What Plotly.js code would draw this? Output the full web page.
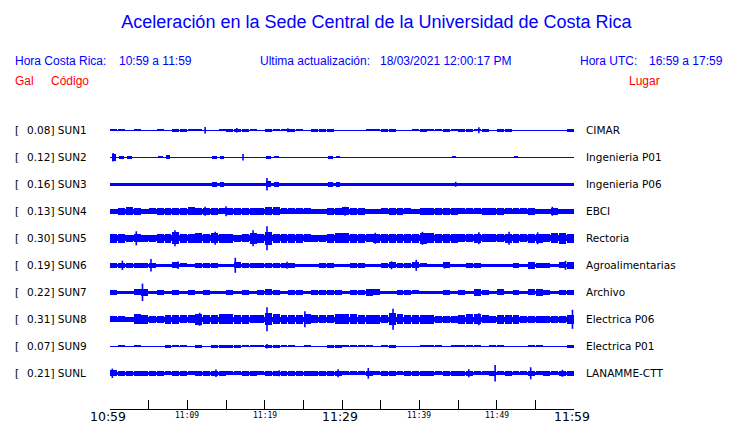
<!DOCTYPE html>
<html>
<head>
<meta charset="utf-8">
<script src="https://cdn.plot.ly/plotly-3.0.1.min.js"></script>
<style>html,body{margin:0;padding:0;background:#fff;}#chart{width:740px;height:423px;}</style>
</head>
<body>
<div id="chart"></div>
<script>
// ---------------- DATA ----------------
const stations = ['SUN1','SUN2','SUN3','SUN4','SUN5','SUN6','SUN7','SUN8','SUN9','SUNL'];
const places = ['CIMAR','Ingenieria P01','Ingenieria P06','EBCI','Rectoria','Agroalimentarias','Archivo','Electrica P06','Electrica P01','LANAMME-CTT'];
const peakGal = [0.08,0.12,0.16,0.13,0.30,0.19,0.22,0.31,0.07,0.21];
// background noise half-amplitude per station (display units)
const noiseLevel = [0.5,0.5,1.8,2.2,3.0,1.8,1.8,2.2,0.7,1.8];
// per-minute maximum half-amplitude (display units), minutes 0..59 after 10:59
const env_SUN1 = [1.0,1.0,0.8,1.0,0,0,1.0,0.8,1.3,1.3, 1.0,1.0,0.8,0.8,1.0,1.3,1.5,1.3,1.0,0.8, 1.2,1.0,1.0,1.5,1.0,0,1.2,1.2,1.2,0.8, 0.8,0.8,0.6,1.0,1.0,1.3,1.5,0.8,0.8,1.0, 1.3,1.0,1.0,1.2,1.0,1.2,1.2,1.0,1.2,0.6, 1.5,1.2,0.8,0,0.8,0.8,0,0.8,0,1.2];
const env_SUN2 = [3.5,1.8,1.2,0.8,0.8,0.8,1.0,2.0,0.8,0, 0,0,0,1.3,1.3,0,0,0,0,0, 1.5,1.0,0,0,0,0,0,0,1.3,1.0, 0,0,0,0,0,0,0,0,0,0, 0,0,0,0,1.0,0,0,0,0,0, 0,0,1.0,0,0,0,0,0,0,0];
const env_SUN3 = [0,0,0,0,0,0,0,0,0,0, 0,0,0,2.8,2.8,0,0,0,0,0, 3.0,2.3,0,0,0,0,0,0,2.8,2.5, 0,0,0,0,0,0,0,0,0,0, 0,0,0,0,0,0,0,0,0,0, 0,0,0,0,0,0,0,0,0,0];
const env_SUN4 = [2.6,3.5,4.0,3.2,2.8,3.0,3.3,3.3,3.5,3.5, 4.0,3.5,3.5,3.3,3.0,3.5,3.5,3.5,3.3,3.3, 4.0,4.0,3.0,3.0,3.0,3.0,2.6,2.5,3.5,3.8, 4.0,3.8,3.5,2.6,2.5,3.0,3.3,3.5,3.0,2.6, 3.5,3.5,3.8,3.5,3.3,3.0,3.0,3.0,3.5,3.5, 3.3,3.0,3.0,3.0,3.5,2.6,2.5,3.5,2.5,2.6];
const env_SUN5 = [4.3,4.3,3.8,4.0,3.8,3.8,4.5,4.5,6.0,4.5, 4.8,5.0,4.8,5.0,4.5,4.5,3.8,4.0,5.5,4.5, 6.5,4.5,4.5,4.3,4.3,4.0,3.8,3.8,4.5,5.0, 5.0,4.8,4.5,4.0,4.5,4.3,4.5,4.5,4.5,4.3, 5.5,5.0,4.5,4.5,4.3,4.0,4.0,4.5,4.0,4.0, 4.0,4.5,4.3,4.0,4.3,4.5,4.0,5.0,5.5,4.3];
const env_SUN6 = [2.2,2.8,2.2,2.5,2.5,2.5,1.8,1.8,3.0,2.0, 1.8,2.5,2.5,2.2,1.8,1.8,3.0,2.5,2.5,2.2, 2.8,2.2,2.8,2.5,1.8,1.8,1.8,2.2,2.2,1.8, 1.8,2.2,2.5,1.8,1.8,2.2,3.0,2.5,2.2,3.0, 2.0,1.8,1.8,3.0,1.8,1.8,2.5,2.5,1.8,1.8, 1.8,1.8,2.2,1.8,3.5,2.8,2.5,1.8,3.0,3.2];
const env_SUN7 = [2.2,1.8,1.8,3.0,3.5,1.8,2.5,1.8,2.2,1.8, 2.2,1.8,2.5,1.8,1.8,2.2,1.8,2.2,1.8,2.8, 3.0,2.2,1.8,2.5,2.2,1.8,2.2,2.2,2.2,2.2, 1.8,2.5,2.5,3.5,3.0,1.8,1.8,2.2,2.2,2.0, 1.8,1.8,1.8,2.5,1.8,2.2,1.8,3.3,2.8,1.8, 3.0,1.8,2.2,1.8,3.0,3.3,2.2,1.8,2.5,2.2];
const env_SUN8 = [3.0,3.0,2.8,5.0,4.5,3.5,3.5,4.5,4.5,4.0, 4.0,5.5,4.5,4.5,5.0,5.0,4.5,4.5,4.0,4.0, 6.0,5.0,4.5,4.5,4.3,5.0,4.0,4.0,4.0,5.0, 5.0,5.0,4.3,4.3,4.3,4.0,6.0,5.0,4.3,4.3, 4.5,4.5,3.8,3.5,3.8,4.5,5.0,5.0,4.0,3.5, 4.5,4.5,4.3,3.5,3.8,3.8,3.5,3.5,3.5,4.5];
const env_SUN9 = [0.7,1.0,0.7,1.0,0.7,0.7,0.7,1.3,1.0,1.0, 0.7,1.3,0.7,1.5,1.5,1.3,1.3,1.0,1.0,1.0, 1.5,1.3,1.0,1.0,0.7,1.0,0.7,0.7,1.5,1.5, 1.0,1.0,1.0,1.0,0.7,1.0,1.5,0.7,0.7,0.7, 1.0,1.0,1.0,0.7,1.0,1.0,1.0,1.0,0.7,1.0, 1.0,0.7,0.7,0.7,1.0,1.0,0.7,0.7,0.7,1.3];
const env_SUNL = [3.0,2.5,2.2,2.2,2.5,2.2,2.2,2.0,2.2,2.2, 2.0,2.3,2.3,2.5,2.2,2.0,2.0,2.2,2.5,2.0, 2.5,2.5,2.2,2.2,2.2,2.3,2.3,2.3,2.3,2.5, 2.0,2.0,2.0,2.5,2.0,2.2,2.2,2.0,2.2,2.5, 2.2,2.2,2.0,2.2,2.2,2.2,2.5,2.0,2.0,2.5, 2.0,2.2,2.0,2.0,2.5,2.0,2.2,2.0,2.5,2.2];
// isolated peaks: [minute, half-amplitude]
const peaks_SUN1 = [[12.3,3.3],[16.4,2.3],[23.0,2.0],[47.7,3.0]];
const peaks_SUN2 = [[0.4,4.3],[17.2,3.3]];
const peaks_SUN3 = [[20.3,6.3],[44.7,2.5]];
const peaks_SUN4 = [[12.3,4.5],[15.0,5.0],[30.4,4.5],[57.2,4.5]];
const peaks_SUN5 = [[3.4,7.0],[8.4,8.0],[13.6,6.5],[18.5,8.0],[20.3,12.0],[34.3,5.5],[40.4,6.5],[47.7,6.0],[51.6,6.5],[55.3,6.0]];
const peaks_SUN6 = [[1.6,4.7],[5.3,6.2],[8.8,3.8],[16.2,7.5],[22.9,3.5],[36.4,4.0],[39.6,5.5],[43.3,3.3],[58.9,4.5]];
const peaks_SUN7 = [[4.2,8.7]];
const peaks_SUN8 = [[11.6,6.5],[20.3,12.0],[25.2,8.0],[36.6,10.5],[47.7,6.0],[59.8,9.5]];
const peaks_SUN9 = [[20.3,2.3]];
const peaks_SUNL = [[0.3,4.7],[13.7,3.8],[21.9,3.0],[29.5,4.0],[33.4,5.3],[46.4,4.0],[49.8,8.3],[54.4,6.0],[58.5,3.5]];
const tickMinutes = [0,10,20,30,40,50,60];
const tickLabels = ['10:59','11:09','11:19','11:29','11:39','11:49','11:59'];
const titleText = 'Aceleración en la Sede Central de la Universidad de Costa Rica';
const localLabel = 'Hora Costa Rica:', localRange = '10:59 a 11:59';
const updLabel = 'Ultima actualización:', updValue = '18/03/2021 12:00:17 PM';
const utcLabel = 'Hora UTC:', utcRange = '16:59 a 17:59';

// ---------------- BUILD ----------------
const envs = [env_SUN1,env_SUN2,env_SUN3,env_SUN4,env_SUN5,env_SUN6,env_SUN7,env_SUN8,env_SUN9,env_SUNL];
const peaks = [peaks_SUN1,peaks_SUN2,peaks_SUN3,peaks_SUN4,peaks_SUN5,peaks_SUN6,peaks_SUN7,peaks_SUN8,peaks_SUN9,peaks_SUNL];

const L = 110, R = 574.3, T = 110, B = 409;
const plotH = B - T;
const BLUE = '#0000ff', RED = '#ff0000';
const px = x => (x - L) / (R - L);
const py = y => (B - y) / plotH;
const center = i => B - (130.3 + 27 * i);

const traces = [];
stations.forEach((s, i) => {
  const c = center(i);
  const n = noiseLevel[i];
  traces.push({type:'bar', x:[30], y:[2*n], base:[c-n], width:[60],
    marker:{color:BLUE, line:{width:0}}, hoverinfo:'skip'});
  const bx = [], by = [], bb = [];
  envs[i].forEach((a, m) => {
    if (a > n) { bx.push(m + 0.5); by.push(2*a); bb.push(c - a); }
  });
  const dense = bx.length > envs[i].length / 2;
  traces.push({type:'bar', x:bx, y:by, base:bb, width: dense ? 0.9 : 0.6,
    marker:{color:BLUE, line:{width:0}}, hoverinfo:'skip'});
  const sx = [], sy = [];
  peaks[i].forEach(([t, a]) => { sx.push(t, t, null); sy.push(c - a, c + a, null); });
  traces.push({type:'scatter', mode:'lines', x:sx, y:sy,
    line:{color:BLUE, width:1.6}, hoverinfo:'skip', connectgaps:false});
});

const ann = [];
const txt = (text, x, y, opts) => ann.push(Object.assign({
  text, x: px(x - 1.5), y: py(y), xref:'paper', yref:'paper', showarrow:false,
  xanchor:'left', yanchor:'middle', borderpad:0,
  font:{family:'Liberation Sans, Arial, sans-serif', size:12, color:BLUE}
}, opts || {}));

txt(localLabel, 15, 61); txt(localRange, 120, 61);
txt(updLabel, 261, 61); txt(updValue, 381, 61);
txt(utcLabel, 581, 61); txt(utcRange, 650, 61);
const redFont = {family:'Liberation Sans, Arial, sans-serif', size:12, color:RED};
txt('Gal', 15, 81, {font:redFont});
txt('Código', 51, 81, {font:redFont});
txt('Lugar', 630, 81, {font:redFont});

const lblFont = {family:'DejaVu Sans, sans-serif', size:10.5, color:'#000'};
stations.forEach((s, i) => {
  const yy = 130.3 + 27 * i;
  txt('[', 15, yy, {font:lblFont});
  txt(peakGal[i].toFixed(2) + '] ' + s, 27.7, yy, {font:lblFont});
  txt(places[i], 587, yy, {font:lblFont});
});

tickMinutes.forEach((m, k) => {
  const big = k % 3 === 0;
  ann.push({text: tickLabels[k], x: m, xref:'x', y: py(big ? 416.5 : 415.5), yref:'paper',
    showarrow:false, xanchor:'center', yanchor:'middle', borderpad:0, xshift: big ? -2 : 0,
    font: big ? {family:'DejaVu Sans, sans-serif', size:12.5, color:'#000'}
              : {family:'DejaVu Sans Mono, monospace', size:8, color:'#000'}});
});

const tv = []; for (let m = 0; m <= 60; m += 5) tv.push(m);

const layout = {
  width:740, height:423,
  margin:{l:L, r:740-R, t:T, b:423-B, pad:0},
  paper_bgcolor:'#fff', plot_bgcolor:'#fff',
  showlegend:false, barmode:'overlay', bargap:0,
  title:{text:titleText, font:{family:'Liberation Sans, Arial, sans-serif', size:18, color:BLUE},
    xref:'container', yref:'container', x:376.5/740, xanchor:'center', y:1-22/423, yanchor:'middle'},
  xaxis:{range:[0,60], tickvals:tv, ticktext:tv.map(()=>''), ticks:'inside', ticklen:9, tickwidth:1,
    tickcolor:'#000', showline:true, linecolor:'#000', linewidth:1, showgrid:false, zeroline:false,
    fixedrange:true, showticklabels:false},
  yaxis:{range:[0,plotH], visible:false, showgrid:false, zeroline:false, fixedrange:true},
  annotations: ann
};

Plotly.newPlot('chart', traces, layout, {staticPlot:true, displayModeBar:false});
</script>
</body>
</html>
